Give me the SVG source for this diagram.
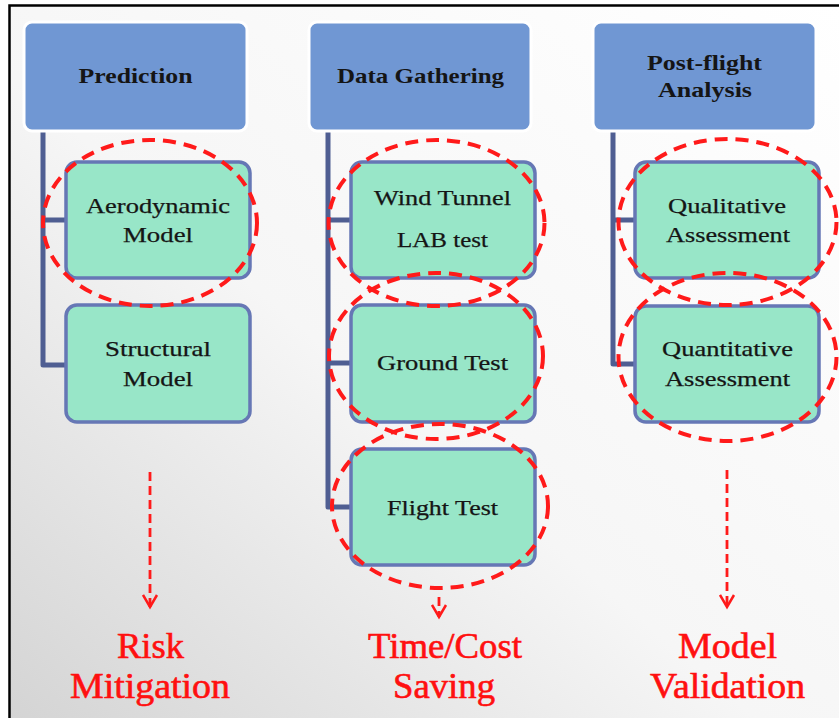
<svg xmlns="http://www.w3.org/2000/svg" width="839" height="718" viewBox="0 0 839 718">
  <defs>
    <linearGradient id="bg" x1="0" y1="1" x2="1" y2="0">
      <stop offset="0" stop-color="#d4d4d4"/>
      <stop offset="0.45" stop-color="#f6f6f6"/>
      <stop offset="1" stop-color="#ffffff"/>
    </linearGradient>
    <marker id="vhead" markerWidth="18" markerHeight="16" refX="8" refY="13" orient="0" markerUnits="userSpaceOnUse">
      <path d="M1,1 L8,13 L15,1" fill="none" stroke="#ff1a1a" stroke-width="2.5"/>
    </marker>
  </defs>
  <style>
    .hdr rect { fill: #7097d3; stroke: #ffffff; stroke-width: 3; }
    .hdr text { font-family: "Liberation Serif", serif; font-weight: bold; font-size: 21px; fill: #151515; text-anchor: middle; }
    .item rect { fill: #98e6c8; stroke: #6677b5; stroke-width: 3.5; }
    .item text { font-family: "Liberation Serif", serif; font-size: 21px; fill: #151515; stroke: #151515; stroke-width: 0.25; text-anchor: middle; }
    .link { fill: none; stroke: #4f5e92; stroke-width: 5; stroke-linejoin: round; }
    .ring { fill: none; stroke: #ff1a1a; stroke-width: 4; stroke-dasharray: 13 8; }
    .flow { fill: none; stroke: #ff1a1a; stroke-width: 2.8; stroke-dasharray: 9 5; }
    .outcome { font-family: "Liberation Serif", serif; font-size: 35px; fill: #ff1010; stroke: #ff1010; stroke-width: 0.6; text-anchor: middle; }
  </style>

  <!-- page -->
  <rect x="0" y="0" width="839" height="718" fill="#ffffff"/>
  <rect x="9" y="5" width="830" height="713" fill="url(#bg)"/>
  <path d="M9.5,718 V5.5 H839" fill="none" stroke="#000000" stroke-width="2.5"/>

  <!-- tree connectors -->
  <g id="connectors">
    <path class="link" d="M43,131 V365 H66 M43,220 H66"/>
    <path class="link" d="M328,131 V507 H351 M328,220 H351 M328,363 H351"/>
    <path class="link" d="M613,131 V364 H635 M613,220 H635"/>
  </g>

  <!-- column headers -->
  <g id="prediction" class="hdr">
    <rect x="24" y="22" width="223" height="109" rx="8"/>
    <text x="135.5" y="83" textLength="114" lengthAdjust="spacingAndGlyphs">Prediction</text>
  </g>
  <g id="data-gathering" class="hdr">
    <rect x="309" y="22" width="222" height="109" rx="8"/>
    <text x="420.5" y="83" textLength="167" lengthAdjust="spacingAndGlyphs">Data Gathering</text>
  </g>
  <g id="post-flight" class="hdr">
    <rect x="593" y="22" width="223" height="109" rx="8"/>
    <text x="704.5" y="70" textLength="115" lengthAdjust="spacingAndGlyphs">Post-flight</text>
    <text x="705" y="97" textLength="94" lengthAdjust="spacingAndGlyphs">Analysis</text>
  </g>

  <!-- items -->
  <g id="aerodynamic-model" class="item">
    <rect x="66" y="162" width="184" height="116" rx="11"/>
    <text x="158" y="213" textLength="144" lengthAdjust="spacingAndGlyphs">Aerodynamic</text>
    <text x="158" y="242" textLength="70" lengthAdjust="spacingAndGlyphs">Model</text>
  </g>
  <g id="structural-model" class="item">
    <rect x="66" y="305" width="184" height="117" rx="11"/>
    <text x="158" y="356" textLength="106" lengthAdjust="spacingAndGlyphs">Structural</text>
    <text x="158" y="386" textLength="70" lengthAdjust="spacingAndGlyphs">Model</text>
  </g>
  <g id="wind-tunnel" class="item">
    <rect x="351" y="162" width="184" height="116" rx="11"/>
    <text x="442.5" y="205" textLength="137" lengthAdjust="spacingAndGlyphs">Wind Tunnel</text>
    <text x="442.5" y="247" textLength="91" lengthAdjust="spacingAndGlyphs">LAB test</text>
  </g>
  <g id="ground-test" class="item">
    <rect x="351" y="305" width="184" height="117" rx="11"/>
    <text x="442.5" y="370" textLength="131" lengthAdjust="spacingAndGlyphs">Ground Test</text>
  </g>
  <g id="flight-test" class="item">
    <rect x="351" y="449" width="184" height="116" rx="11"/>
    <text x="442.5" y="515" textLength="111" lengthAdjust="spacingAndGlyphs">Flight Test</text>
  </g>
  <g id="qualitative" class="item">
    <rect x="635" y="162" width="184" height="116" rx="11"/>
    <text x="727" y="213" textLength="118" lengthAdjust="spacingAndGlyphs">Qualitative</text>
    <text x="728" y="242" textLength="124" lengthAdjust="spacingAndGlyphs">Assessment</text>
  </g>
  <g id="quantitative" class="item">
    <rect x="635" y="306" width="184" height="116" rx="11"/>
    <text x="727.5" y="356" textLength="131" lengthAdjust="spacingAndGlyphs">Quantitative</text>
    <text x="727.5" y="386" textLength="125" lengthAdjust="spacingAndGlyphs">Assessment</text>
  </g>

  <!-- dashed highlight rings -->
  <g id="highlights">
    <ellipse class="ring" cx="150" cy="223" rx="107" ry="83"/>
    <ellipse class="ring" cx="436.5" cy="223" rx="108" ry="83"/>
    <ellipse class="ring" cx="436" cy="356" rx="107" ry="83"/>
    <ellipse class="ring" cx="440" cy="506" rx="108" ry="82"/>
    <ellipse class="ring" cx="727.5" cy="222" rx="109" ry="83"/>
    <ellipse class="ring" cx="727.5" cy="357" rx="109" ry="84"/>
  </g>

  <!-- outcome arrows -->
  <g id="outcome-arrows">
    <path class="flow" d="M150,472 V607" marker-end="url(#vhead)"/>
    <path class="flow" d="M439,597 V617" marker-end="url(#vhead)"/>
    <path class="flow" d="M727,470 V607" marker-end="url(#vhead)"/>
  </g>

  <!-- outcomes -->
  <g id="risk-mitigation">
    <text class="outcome" x="150.5" y="658" textLength="67" lengthAdjust="spacingAndGlyphs">Risk</text>
    <text class="outcome" x="150" y="698" textLength="160" lengthAdjust="spacingAndGlyphs">Mitigation</text>
  </g>
  <g id="time-cost-saving">
    <text class="outcome" x="445" y="658" textLength="154" lengthAdjust="spacingAndGlyphs">Time/Cost</text>
    <text class="outcome" x="444" y="698" textLength="102" lengthAdjust="spacingAndGlyphs">Saving</text>
  </g>
  <g id="model-validation">
    <text class="outcome" x="727.5" y="658" textLength="99" lengthAdjust="spacingAndGlyphs">Model</text>
    <text class="outcome" x="727.5" y="698" textLength="155" lengthAdjust="spacingAndGlyphs">Validation</text>
  </g>
</svg>
